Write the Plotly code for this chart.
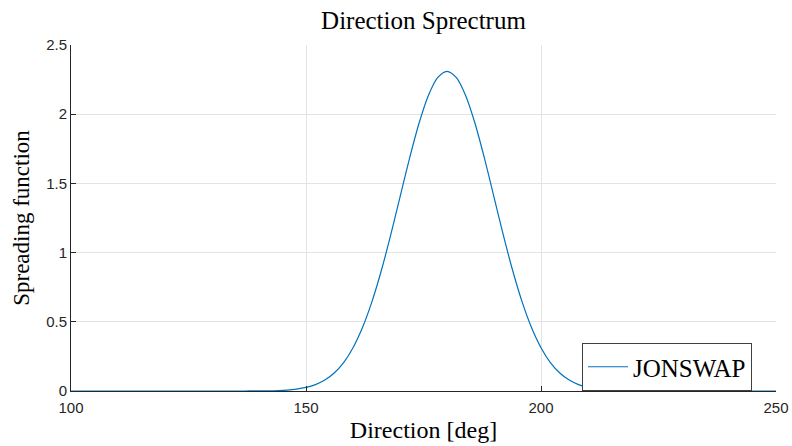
import plotly.graph_objects as go

# Direction (deg) and spreading function values
direction = [100, 120, 130, 134, 136, 138, 140, 142, 144, 146, 148, 150, 152, 154, 156, 158,
             160, 162, 164, 166, 168, 170, 172, 174, 176, 178, 180,
             182, 184, 186, 188, 190, 192, 194, 196, 198, 200, 202, 204,
             206, 208, 210, 212, 214, 216, 218, 220, 222, 224, 226, 230, 240, 250]
spreading = [0.0, 0.0, 0.0, 0.00003, 0.0001, 0.0003, 0.0008, 0.0016, 0.0035, 0.007, 0.014, 0.026, 0.046, 0.079, 0.130, 0.205,
             0.313, 0.457, 0.642, 0.867, 1.124, 1.401, 1.677, 1.929, 2.132, 2.264, 2.31,
             2.264, 2.132, 1.929, 1.677, 1.401, 1.124, 0.867, 0.642, 0.457, 0.313, 0.205, 0.130,
             0.079, 0.046, 0.026, 0.014, 0.007, 0.0035, 0.0016, 0.0008, 0.0003, 0.0001, 0.00003, 0.0, 0.0, 0.0]

x_ticks = [100, 150, 200, 250]
y_ticks = [0, 0.5, 1, 1.5, 2, 2.5]
y_tick_labels = ["0", "0.5", "1", "1.5", "2", "2.5"]

serif = "Liberation Serif, DejaVu Serif, serif"
sans = "Liberation Sans, Arial, sans-serif"
axis_col = "#262626"
grid_col = "#e3e3e3"

W, H = 792, 446

fig = go.Figure()
fig.add_trace(go.Scatter(
    x=direction, y=spreading, mode="lines", name="JONSWAP",
    line=dict(color="#0072BD", width=1.2, shape="spline", smoothing=0.8),
))

fig.update_layout(
    width=W, height=H,
    margin=dict(l=71, r=16, t=45, b=55, autoexpand=False),
    paper_bgcolor="white", plot_bgcolor="white",
    title=dict(text="Direction Sprectrum", x=423.5 / W, xanchor="center",
               y=1 - 20 / H, yanchor="middle", automargin=False,
               font=dict(family=serif, size=25, color="black")),
    showlegend=True,
    legend=dict(x=(582 - 71) / 705, y=(391 - 343) / 346, xanchor="left", yanchor="top",
                bgcolor="white", bordercolor="#404040", borderwidth=1,
                font=dict(family=serif, size=25, color="black"),
                itemwidth=40, tracegroupgap=0),
    xaxis=dict(range=[100, 250], tickvals=x_ticks, ticktext=[str(v) for v in x_ticks],
               showgrid=True, gridcolor=grid_col, gridwidth=1,
               showline=True, linecolor=axis_col, linewidth=1,
               ticks="inside", ticklen=5, tickcolor=axis_col,
               zeroline=False, automargin=False, ticklabelstandoff=3,
               tickfont=dict(family=sans, size=15, color=axis_col),
               title=dict(text="Direction [deg]", font=dict(family=serif, size=24, color="black"),
                          standoff=6)),
    yaxis=dict(range=[0, 2.5], tickvals=y_ticks, ticktext=y_tick_labels,
               showgrid=True, gridcolor=grid_col, gridwidth=1,
               showline=True, linecolor=axis_col, linewidth=1,
               ticks="inside", ticklen=5, tickcolor=axis_col,
               zeroline=False, automargin=False,
               tickfont=dict(family=sans, size=15, color=axis_col),
               title=dict(text="Spreading function", font=dict(family=serif, size=23, color="black"),
                          standoff=10)),
)

fig.write_html("out.html", config={"displayModeBar": False},
               post_script="document.body.style.margin='0';document.body.style.overflow='hidden';")
